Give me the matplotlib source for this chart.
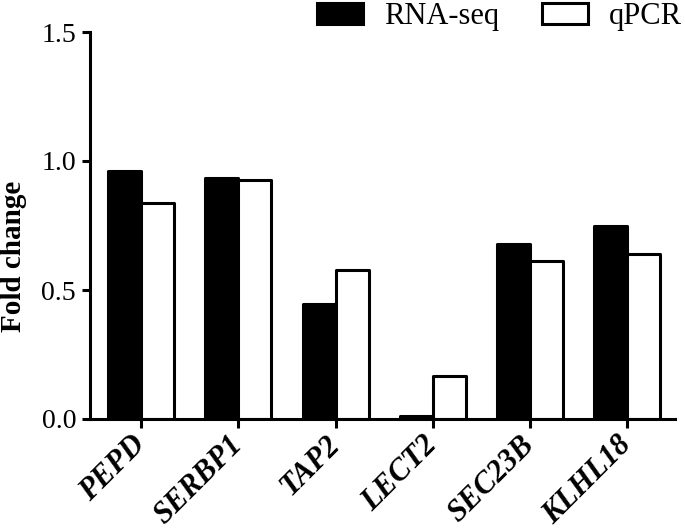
import numpy as np
import matplotlib
matplotlib.use("Agg")
import matplotlib.pyplot as plt

plt.rcParams['font.family'] = ['Liberation Serif', 'DejaVu Serif']

# datos
genes = ['PEPD', 'SERBP1', 'TAP2', 'LECT2', 'SEC23B', 'KLHL18']
rna_seq = [0.96, 0.936, 0.445, 0.01, 0.677, 0.75]
qpcr = [0.836, 0.927, 0.578, 0.167, 0.613, 0.64]
yticks = [0.0, 0.5, 1.0, 1.5]

fig = plt.figure(figsize=(6.85, 5.29), dpi=100)
ax = fig.add_axes([90 / 685, 1 - 419 / 529, 585 / 685, 387 / 529])

x = np.arange(len(genes))
w = 0.34
lw = 2.2
ax.bar(x - w, rna_seq, w, align='edge', color='black', edgecolor='black',
       linewidth=lw, joinstyle='round', label='RNA-seq')
ax.bar(x, qpcr, w, align='edge', color='white', edgecolor='black',
       linewidth=lw, joinstyle='round', label='qPCR')

ax.set_xlim(-0.525, 5.49)
ax.set_ylim(0, 1.5)
ax.set_yticks(yticks)
ax.set_yticklabels(['%.1f' % v for v in yticks], fontsize=20)
ax.set_xticks(x)
ax.set_xticklabels(genes, fontsize=22, fontweight='bold', style='italic',
                   rotation=45, ha='right', va='center', rotation_mode='anchor')

for s in ['top', 'right']:
    ax.spines[s].set_visible(False)
for s in ['left', 'bottom']:
    ax.spines[s].set_linewidth(lw)
ax.tick_params(axis='y', length=6, width=lw, pad=4)
ax.tick_params(axis='x', length=6.5, width=lw, pad=9)

ax.set_ylabel('Fold change', fontsize=21, fontweight='bold')
ax.yaxis.set_label_coords(-0.108, 0.42)

fig.legend(loc='center right', bbox_to_anchor=(1.018, 0.968), ncol=2,
           frameon=False, fontsize=22, borderpad=0, handlelength=1.5,
           handleheight=0.7, handletextpad=0.7, columnspacing=1.4)

fig.savefig('out.png', dpi=100)
